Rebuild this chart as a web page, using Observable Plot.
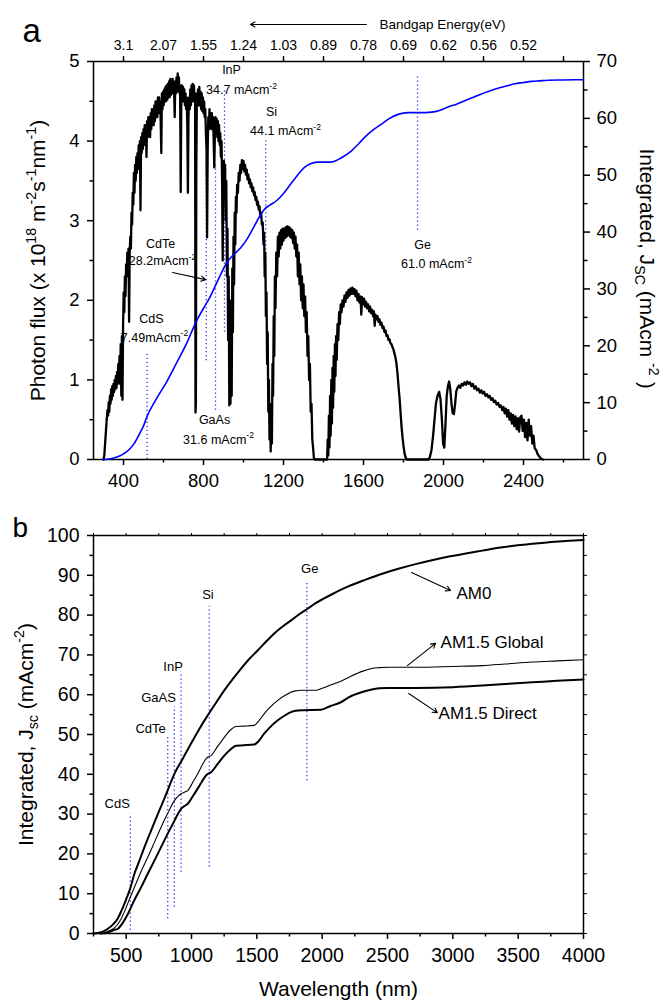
<!DOCTYPE html>
<html><head><meta charset="utf-8">
<script src="https://cdn.jsdelivr.net/npm/d3@7"></script>
<script src="https://cdn.jsdelivr.net/npm/@observablehq/plot@0.6"></script>
<style>
body{margin:0;background:#fff;}
#root{position:relative;width:662px;height:1008px;font-family:"Liberation Sans",Arial,sans-serif;}
#root svg{position:absolute;left:0;}
</style></head><body><div id="root"></div>
<script>
// ---------- Panel a data ----------
// AM1.5G photon flux (x1e18 m^-2 s^-1 nm^-1) : [wavelength nm, flux]
const photonFlux = [[300,0],[304,0.05],[308,0.2],[312,0.35],[316,0.5],[320,0.62],[323,0.55],[326,0.72],[329,0.6],[332,0.8],[335,0.7],[338,0.88],[341,0.75],[344,0.92],[347,0.8],[350,0.95],[353,0.85],[356,1.0],[359,0.88],[362,1.05],[365,0.9],[368,1.1],[371,0.95],[374,1.2],[377,1.0],[380,1.3],[383,0.95],[386,1.45],[389,0.8],[392,1.55],[395,0.75],[398,1.7],[401,2.1],[404,1.85],[407,2.3],[410,2.05],[413,2.45],[416,2.3],[419,2.6],[422,2.45],[425,2.65],[428,1.73],[431,2.6],[434,2.8],[437,2.65],[440,3.1],[443,2.95],[446,3.35],[449,3.2],[452,3.6],[455,3.35],[458,3.7],[461,3.5],[464,3.8],[467,3.6],[470,3.85],[473,3.65],[476,3.95],[479,3.75],[482,4.0],[485,3.13],[488,4.05],[491,3.85],[494,4.1],[497,3.9],[500,4.15],[503,3.95],[506,4.2],[509,4.0],[512,4.2],[515,3.8],[518,4.25],[521,4.05],[524,4.3],[527,4.1],[530,4.3],[533,4.05],[536,4.35],[539,4.15],[542,4.4],[545,4.2],[548,4.4],[551,4.2],[554,4.45],[557,4.25],[560,4.5],[563,4.3],[566,4.5],[569,4.3],[572,4.55],[575,4.35],[578,4.55],[581,4.4],[584,4.5],[589,3.85],[592,4.6],[595,4.4],[598,4.62],[601,4.45],[604,4.65],[607,4.5],[610,4.68],[613,4.5],[616,4.7],[619,4.52],[622,4.72],[625,4.55],[628,4.75],[631,4.55],[634,4.78],[637,4.58],[640,4.75],[643,4.6],[646,4.78],[649,4.6],[652,4.75],[656,4.3],[659,4.75],[662,4.6],[665,4.8],[668,4.62],[671,4.85],[674,4.65],[677,4.8],[680,4.6],[683,4.7],[686,3.36],[689,4.55],[692,4.7],[695,4.5],[698,4.68],[701,4.5],[704,4.65],[707,4.45],[710,4.6],[713,4.4],[716,4.55],[719,4.2],[722,3.35],[725,4.3],[728,4.55],[731,4.4],[734,4.65],[737,4.45],[740,4.7],[743,4.5],[746,4.72],[749,4.5],[752,4.7],[755,4.55],[758,4.6],[760,0.59],[762,0.7],[764,3.6],[767,4.6],[770,4.45],[773,4.65],[776,4.45],[779,4.68],[782,4.45],[785,4.62],[788,4.4],[791,4.6],[794,4.38],[797,4.55],[800,4.35],[803,4.5],[806,4.3],[809,4.4],[812,4.1],[815,3.9],[818,2.79],[821,3.9],[824,4.3],[827,4.15],[830,4.4],[833,4.2],[836,4.35],[839,4.15],[842,4.35],[845,4.15],[848,4.3],[851,4.0],[854,3.67],[857,4.1],[860,4.3],[863,4.1],[866,4.28],[869,4.05],[872,4.25],[875,4.0],[878,4.2],[881,3.95],[884,4.1],[887,3.8],[890,4.0],[893,3.5],[896,2.5],[899,3.6],[902,3.75],[905,3.3],[908,3.7],[911,3.0],[914,3.5],[917,2.3],[920,2.9],[923,1.5],[926,2.3],[929,0.68],[932,1.5],[935,0.7],[938,2.0],[941,0.8],[944,2.4],[947,1.6],[950,2.8],[953,2.2],[956,3.1],[959,2.7],[962,3.3],[965,3.1],[968,3.45],[972,3.35],[976,3.6],[980,3.5],[984,3.7],[988,3.6],[992,3.76],[996,3.65],[1000,3.75],[1004,3.62],[1008,3.7],[1012,3.58],[1016,3.64],[1020,3.52],[1024,3.58],[1028,3.47],[1032,3.52],[1036,3.42],[1040,3.47],[1044,3.37],[1048,3.42],[1052,3.32],[1056,3.36],[1060,3.26],[1064,3.3],[1068,3.2],[1072,3.24],[1076,3.14],[1080,3.18],[1084,3.05],[1088,3.1],[1092,2.95],[1096,2.98],[1100,2.7],[1103,2.85],[1106,2.3],[1109,2.6],[1112,1.8],[1115,2.1],[1118,1.2],[1121,1.6],[1124,0.6],[1127,1.0],[1130,0.25],[1133,0.6],[1136,0.1],[1139,0.7],[1142,0.2],[1145,1.2],[1148,0.8],[1151,1.8],[1154,1.3],[1157,2.3],[1160,1.9],[1164,2.6],[1168,2.3],[1172,2.8],[1176,2.55],[1180,2.85],[1184,2.65],[1188,2.88],[1192,2.7],[1196,2.9],[1200,2.75],[1204,2.9],[1208,2.78],[1212,2.92],[1216,2.8],[1220,2.93],[1224,2.82],[1228,2.92],[1232,2.8],[1236,2.9],[1240,2.78],[1244,2.88],[1248,2.72],[1252,2.85],[1256,2.65],[1260,2.8],[1264,2.55],[1268,2.7],[1272,2.3],[1276,2.6],[1280,2.2],[1284,2.45],[1288,2.0],[1292,2.3],[1296,1.9],[1300,2.2],[1304,1.8],[1308,2.05],[1312,1.6],[1316,1.85],[1320,1.3],[1324,1.55],[1328,1.0],[1332,1.2],[1336,0.6],[1340,0.7],[1344,0.25],[1348,0.15],[1352,0.02],[1356,0],[1418,0],[1421,0.25],[1424,0.05],[1427,0.55],[1430,0.15],[1433,0.8],[1436,0.3],[1439,1.0],[1442,0.45],[1445,1.15],[1448,0.65],[1451,1.3],[1454,0.85],[1457,1.45],[1460,1.05],[1463,1.55],[1466,1.25],[1470,1.7],[1474,1.5],[1478,1.85],[1482,1.7],[1486,1.95],[1490,1.85],[1495,2.0],[1500,1.92],[1505,2.06],[1510,1.98],[1515,2.1],[1520,2.03],[1525,2.13],[1530,2.06],[1535,2.15],[1540,2.08],[1545,2.16],[1550,2.08],[1555,2.14],[1560,2.05],[1565,2.12],[1570,2.0],[1575,2.08],[1580,1.97],[1585,2.05],[1589,1.82],[1593,2.04],[1598,1.95],[1603,2.02],[1608,1.92],[1613,1.98],[1618,1.9],[1623,1.95],[1628,1.86],[1633,1.92],[1638,1.84],[1643,1.88],[1648,1.8],[1652,1.86],[1656,1.68],[1660,1.82],[1665,1.76],[1670,1.8],[1675,1.73],[1680,1.76],[1685,1.69],[1690,1.72],[1695,1.65],[1700,1.67],[1705,1.6],[1710,1.62],[1715,1.55],[1720,1.56],[1725,1.5],[1730,1.51],[1735,1.46],[1740,1.45],[1745,1.41],[1750,1.38],[1755,1.33],[1760,1.28],[1765,1.2],[1770,1.08],[1775,0.92],[1780,0.78],[1785,0.6],[1790,0.42],[1795,0.28],[1800,0.17],[1805,0.08],[1810,0.03],[1816,0],[1924,0],[1932,0.03],[1940,0.12],[1948,0.3],[1955,0.5],[1962,0.7],[1970,0.8],[1978,0.85],[1985,0.76],[1992,0.5],[1998,0.2],[2004,0.15],[2010,0.45],[2016,0.8],[2022,0.92],[2028,0.98],[2034,0.88],[2040,0.7],[2046,0.58],[2052,0.57],[2058,0.7],[2064,0.86],[2070,0.9],[2077,0.93],[2084,0.9],[2091,0.95],[2098,0.93],[2105,0.97],[2112,0.94],[2119,0.98],[2126,0.95],[2133,0.97],[2140,0.92],[2147,0.95],[2154,0.89],[2161,0.92],[2168,0.87],[2175,0.89],[2182,0.84],[2189,0.87],[2196,0.83],[2203,0.85],[2210,0.8],[2217,0.82],[2224,0.78],[2231,0.8],[2238,0.75],[2245,0.77],[2252,0.72],[2259,0.74],[2266,0.69],[2273,0.71],[2280,0.66],[2287,0.68],[2294,0.62],[2300,0.66],[2306,0.58],[2312,0.64],[2318,0.54],[2324,0.62],[2330,0.5],[2336,0.58],[2342,0.45],[2348,0.56],[2354,0.42],[2360,0.54],[2366,0.38],[2372,0.52],[2378,0.35],[2384,0.53],[2390,0.55],[2396,0.36],[2402,0.5],[2408,0.28],[2414,0.46],[2420,0.24],[2426,0.5],[2432,0.3],[2438,0.42],[2444,0.2],[2450,0.3],[2456,0.14],[2463,0.12],[2470,0.07],[2478,0.04],[2488,0.01],[2498,0]];

// Integrated Jsc (mA cm^-2) under AM1.5G : [nm, Jsc]
const jscGlobalA = [[300,0],[320,0.05],[350,0.25],[380,0.6],[400,1.0],[430,1.8],[452,2.75],[480,4.5],[500,5.9],[518,7.6],[560,10.4],[618,13.8],[670,17.3],[718,20.6],[760,24.0],[800,26.6],[827,28.2],[873,31.6],[918,34.7],[950,36.0],[985,37.2],[1020,38.9],[1050,40.8],[1085,43.0],[1107,44.1],[1130,44.7],[1168,45.6],[1200,46.8],[1235,48.4],[1270,50.0],[1302,51.3],[1335,52.0],[1368,52.3],[1400,52.3],[1435,52.3],[1470,52.7],[1500,53.3],[1540,54.3],[1575,55.5],[1607,56.7],[1650,58.0],[1690,59.0],[1730,60.0],[1773,60.7],[1823,61.0],[1880,61.0],[1940,61.1],[1980,61.4],[2023,62.0],[2065,62.5],[2107,63.1],[2150,63.7],[2190,64.3],[2230,64.8],[2273,65.3],[2315,65.7],[2357,66.1],[2400,66.3],[2440,66.5],[2480,66.6],[2523,66.7],[2600,66.75],[2700,66.8]];

// Semiconductor band-edge markers, panel a: [name, nm, y1, y2] (photon-flux units)
const edgesA = [["CdS",518,0,1.35],["CdTe",814,1.24,3.76],["GaAs",860,0.62,3.72],["InP",905,1.6,4.64],["Si",1111,1.98,4.0],["Ge",1870,2.88,4.81]];
// Annotation labels, panel a: [text, nm, flux]
const labelsA = [["InP",940,4.887],["34.7 mAcm^{-2}",990,4.636],["Si",1140,4.36],["44.1 mAcm^{-2}",1210,4.13],["CdTe",585,2.71],["28.2mAcm^{-2}",595,2.49],["CdS",540,1.77],["7.49mAcm^{-2}",555,1.53],["GaAs",855,0.49],["31.6 mAcm^{-2}",875,0.25],["Ge",1895,2.70],["61.0 mAcm^{-2}",1965,2.45]];
const arrowsA = [[645,2.35,810,2.26],[1615,5.465,1035,5.465]];
const headerA = [["Bandgap Energy(eV)",1680,5.465]];

// Axis ticks, panel a
const bottomMajorA = [400,800,1200,1600,2000,2400];
const bottomMinorA = [600,1000,1400,1800,2200,2600];
const topTickNm = [400,600,800,1000,1200,1400,1600,1800,2000,2200,2400,2600];
const energyLabels = ["3.1","2.07","1.55","1.24","1.03","0.89","0.78","0.69","0.62","0.56","0.52",""];
const leftMajorA = [0,1,2,3,4,5];
const leftMinorA = [0.5,1.5,2.5,3.5,4.5];
const rightMajorA = [0,10,20,30,40,50,60,70];
const rightMinorA = [5,15,25,35,45,55,65];

// ---------- Panel b data ----------
const am0 = [[250,0],[290,0.2],[330,0.6],[360,1.2],[400,2.3],[436,3.8],[465,5.8],[500,8.6],[530,11.2],[563,15.0],[600,18.2],[640,21.7],[690,25.8],[742,30.0],[800,34.5],[869,40.1],[933,43.9],[996,47.7],[1060,51.4],[1124,54.8],[1190,58.1],[1251,61.1],[1315,63.9],[1378,66.5],[1440,68.9],[1506,71.1],[1570,73.3],[1633,75.4],[1700,77.2],[1760,78.6],[1824,80.2],[1888,81.6],[1950,83.0],[2015,84.2],[2079,85.3],[2200,87.2],[2333,88.9],[2460,90.4],[2590,91.7],[2715,92.8],[2840,93.8],[2970,94.7],[3100,95.5],[3225,96.2],[3350,96.9],[3480,97.5],[3610,97.9],[3736,98.3],[3860,98.6],[4000,98.9]];
const am15global = [[290,0],[320,0.1],[360,0.5],[410,1.4],[450,3.0],[487,5.5],[530,9.0],[563,11.6],[614,15.6],[666,19.2],[716,22.9],[767,26.7],[818,30.2],[869,33.4],[900,34.6],[920,35.1],[945,35.5],[971,35.9],[1010,38.0],[1047,40.1],[1080,42.2],[1111,43.9],[1130,44.4],[1149,44.7],[1200,47.0],[1251,49.3],[1300,51.2],[1340,52.0],[1400,52.1],[1480,52.3],[1520,53.6],[1556,55.2],[1600,56.8],[1658,58.5],[1720,59.9],[1786,60.9],[1850,61.1],[1952,61.1],[2000,61.6],[2070,62.5],[2143,63.4],[2206,64.4],[2300,65.8],[2380,66.6],[2436,66.8],[2500,66.9],[2715,66.9],[3000,67.1],[3225,67.3],[3400,67.7],[3607,68.2],[3800,68.5],[4000,68.8]];
const am15direct = [[300,0],[330,0.05],[370,0.4],[410,0.9],[436,1.2],[470,2.5],[513,4.9],[560,8.2],[614,11.6],[665,15.0],[716,18.3],[767,21.7],[818,25.1],[869,28.3],[900,30.3],[920,31.3],[945,32.0],[971,32.6],[1010,34.5],[1047,36.4],[1080,38.2],[1111,39.7],[1130,40.2],[1149,40.5],[1200,42.6],[1251,44.7],[1300,46.3],[1340,47.2],[1400,47.3],[1480,47.5],[1520,48.6],[1556,50.2],[1600,51.8],[1658,53.5],[1720,54.9],[1786,55.9],[1850,56.1],[1990,56.2],[2060,57.1],[2143,58.1],[2206,59.4],[2300,60.6],[2380,61.3],[2436,61.6],[2500,61.7],[2715,61.7],[3000,61.9],[3225,62.3],[3400,62.7],[3607,63.1],[3800,63.5],[4000,63.8]];
const edgesB = [["CdS",532,0.8,30],["CdTe",818,3.7,49.5],["GaAS",869,6.6,57],["InP",920,15.4,65.7],["Si",1136,16.7,82.2],["Ge",1883,38.4,88.5]];
const labelsB = [["CdS",431,32.7],["CdTe",687,51.5],["GaAS",748,59.3],["InP",859,67.1],["Si",1126,85.2],["Ge",1905,91.7]];
const seriesLabelsB = [["AM0",3028,85.4],["AM1.5 Global",2906,73.1],["AM1.5 Direct",2891,55.3]];
const arrowsB = [[2684,90.7,2982,86.2],[2652,67.3,2868,72.9],[2662,60.3,2881,55.5]];
const bottomMajorB = [500,1000,1500,2000,2500,3000,3500,4000];
const bottomMinorB = [250,750,1250,1750,2250,2750,3250,3750];
const allQuarterB = [250,500,750,1000,1250,1500,1750,2000,2250,2500,2750,3000,3250,3500,3750,4000];
const leftMajorB = [0,10,20,30,40,50,60,70,80,90,100];
const leftMinorB = [5,15,25,35,45,55,65,75,85,95];
const allFiveB = [0,5,10,15,20,25,30,35,40,45,50,55,60,65,70,75,80,85,90,95,100];

// ---------- rendering ----------
const FONT = '"Liberation Sans", Arial, sans-serif';
const base = {width: 662, marginLeft: 93, marginRight: 79,
  style: {background: "transparent", fontFamily: FONT, color: "#000", overflow: "visible"}};
const blank = () => "";
const plain = d => String(d);
const DOT = {stroke: "#2b2bff", strokeWidth: 1.3, strokeDasharray: "1.2,2.8"};
const energyMap = new Map(topTickNm.map((d, i) => [d, energyLabels[i]]));

const a1 = Plot.plot({
  ...base, height: 500, marginTop: 61, marginBottom: 41,
  x: {domain: [250, 2700]}, y: {domain: [0, 5]},
  marks: [
    Plot.ruleX(edgesA, {x: d => d[1], y1: d => d[2], y2: d => d[3], ...DOT}),
    Plot.line(photonFlux, {x: d => d[0], y: d => d[1], stroke: "#000", strokeWidth: 2.3}),
    Plot.frame({stroke: "#000", strokeWidth: 1.5}),
    Plot.axisX({anchor: "bottom", ticks: bottomMajorA, tickSize: 6, tickPadding: 8, fontSize: 18.5, tickFormat: plain, label: null, strokeWidth: 1.5}),
    Plot.axisX({anchor: "bottom", ticks: bottomMinorA, tickSize: 3.5, tickFormat: blank, label: null, strokeWidth: 1.5}),
    Plot.axisX({anchor: "top", ticks: topTickNm, tickSize: 6, tickPadding: 6, fontSize: 14, tickFormat: d => energyMap.get(d), label: null, strokeWidth: 1.5}),
    Plot.axisY({anchor: "left", ticks: leftMajorA, tickSize: 6, tickPadding: 8, fontSize: 18.5, tickFormat: plain, label: null, strokeWidth: 1.5}),
    Plot.axisY({anchor: "left", ticks: leftMinorA, tickSize: 3.5, tickFormat: blank, label: null, strokeWidth: 1.5}),
    Plot.text(labelsA, {x: d => d[1], y: d => d[2], text: d => d[0], fontSize: 12.5}),
    Plot.arrow(arrowsA, {x1: d => d[0], y1: d => d[1], x2: d => d[2], y2: d => d[3], stroke: "#000", strokeWidth: 1.1, headLength: 7}),
    Plot.text(headerA, {x: d => d[1], y: d => d[2], text: d => d[0], textAnchor: "start", fontSize: 13.5}),
    Plot.text(["a"], {frameAnchor: "top-left", dx: -71, dy: -43, textAnchor: "start", fontSize: 33}),
    Plot.text(["Photon flux (x 10^{18} m^{-2}s^{-1}nm^{-1})"], {frameAnchor: "left", textAnchor: "middle", rotate: -90, dx: -55, fontSize: 21})
  ]
});

const a2 = Plot.plot({
  ...base, height: 500, marginTop: 61, marginBottom: 41,
  x: {domain: [250, 2700], axis: null}, y: {domain: [0, 70]},
  marks: [
    Plot.line(jscGlobalA, {x: d => d[0], y: d => d[1], stroke: "#0000ff", strokeWidth: 1.6, curve: "monotone-x"}),
    Plot.axisY({anchor: "right", ticks: rightMajorA, tickSize: 6, tickPadding: 7, fontSize: 18.5, tickFormat: plain, label: null, strokeWidth: 1.5}),
    Plot.axisY({anchor: "right", ticks: rightMinorA, tickSize: 3.5, tickFormat: blank, label: null, strokeWidth: 1.5}),
    Plot.text(["Integrated, J_{SC} (mAcm ^{-2} )"], {frameAnchor: "right", textAnchor: "middle", rotate: 90, dx: 63, dy: 8, fontSize: 21})
  ]
});

const b = Plot.plot({
  ...base, height: 508, marginTop: 35, marginBottom: 75,
  x: {domain: [250, 4000]}, y: {domain: [0, 100]},
  marks: [
    Plot.ruleX(edgesB, {x: d => d[1], y1: d => d[2], y2: d => d[3], ...DOT}),
    Plot.line(am0, {x: d => d[0], y: d => d[1], stroke: "#000", strokeWidth: 2, curve: "monotone-x"}),
    Plot.line(am15global, {x: d => d[0], y: d => d[1], stroke: "#000", strokeWidth: 1.1, curve: "monotone-x"}),
    Plot.line(am15direct, {x: d => d[0], y: d => d[1], stroke: "#000", strokeWidth: 2, curve: "monotone-x"}),
    Plot.frame({stroke: "#000", strokeWidth: 1.5}),
    Plot.axisX({anchor: "bottom", ticks: bottomMajorB, tickSize: 6, tickPadding: 9, fontSize: 19.5, tickFormat: plain, label: null, strokeWidth: 1.5}),
    Plot.axisX({anchor: "bottom", ticks: bottomMinorB, tickSize: 3.5, tickFormat: blank, label: null, strokeWidth: 1.5}),
    Plot.axisX({anchor: "top", ticks: allQuarterB, tickSize: 3, tickFormat: blank, label: null, strokeWidth: 1}),
    Plot.axisY({anchor: "left", ticks: leftMajorB, tickSize: 6, tickPadding: 8, fontSize: 19.5, tickFormat: plain, label: null, strokeWidth: 1.5}),
    Plot.axisY({anchor: "left", ticks: leftMinorB, tickSize: 3.5, tickFormat: blank, label: null, strokeWidth: 1.5}),
    Plot.axisY({anchor: "right", ticks: allFiveB, tickSize: 3, tickFormat: blank, label: null, strokeWidth: 1}),
    Plot.text(labelsB, {x: d => d[1], y: d => d[2], text: d => d[0], fontSize: 13}),
    Plot.text(seriesLabelsB, {x: d => d[1], y: d => d[2], text: d => d[0], textAnchor: "start", fontSize: 17}),
    Plot.arrow(arrowsB, {x1: d => d[0], y1: d => d[1], x2: d => d[2], y2: d => d[3], stroke: "#000", strokeWidth: 1.1, headLength: 7}),
    Plot.text(["b"], {frameAnchor: "top-left", dx: -81, dy: -18, textAnchor: "start", fontSize: 28}),
    Plot.text(["Integrated, J_{sc} (mAcm^{-2})"], {frameAnchor: "left", textAnchor: "middle", rotate: -90, dx: -67, fontSize: 21}),
    Plot.text(["Wavelength (nm)"], {frameAnchor: "bottom", textAnchor: "middle", dy: 62, fontSize: 21})
  ]
});

function rich(svg) {
  const NS = "http://www.w3.org/2000/svg";
  svg.querySelectorAll("text").forEach(t => {
    const s = t.textContent;
    if (!/[\^_]\{/.test(s) || t.querySelector("tspan")) return;
    t.textContent = "";
    const re = /([\^_])\{([^}]*)\}/g;
    let last = 0, cur = 0, m;
    const add = (str, kind) => {
      if (!str) return;
      const ts = document.createElementNS(NS, "tspan");
      const scale = kind ? 0.68 : 1;
      const target = kind === "^" ? -0.42 : kind === "_" ? 0.22 : 0;
      if (kind) ts.setAttribute("font-size", "68%");
      const dy = target - cur;
      if (Math.abs(dy) > 1e-6) ts.setAttribute("dy", (dy / scale).toFixed(3) + "em");
      cur = target;
      ts.textContent = str;
      t.appendChild(ts);
    };
    while ((m = re.exec(s))) { add(s.slice(last, m.index), null); add(m[2], m[1]); last = re.lastIndex; }
    add(s.slice(last), null);
  });
}

const root = document.getElementById("root");
[[a1, 0], [a2, 0], [b, 500]].forEach(([svg, top]) => {
  rich(svg);
  svg.style.top = top + "px";
  root.appendChild(svg);
});
</script></body></html>
